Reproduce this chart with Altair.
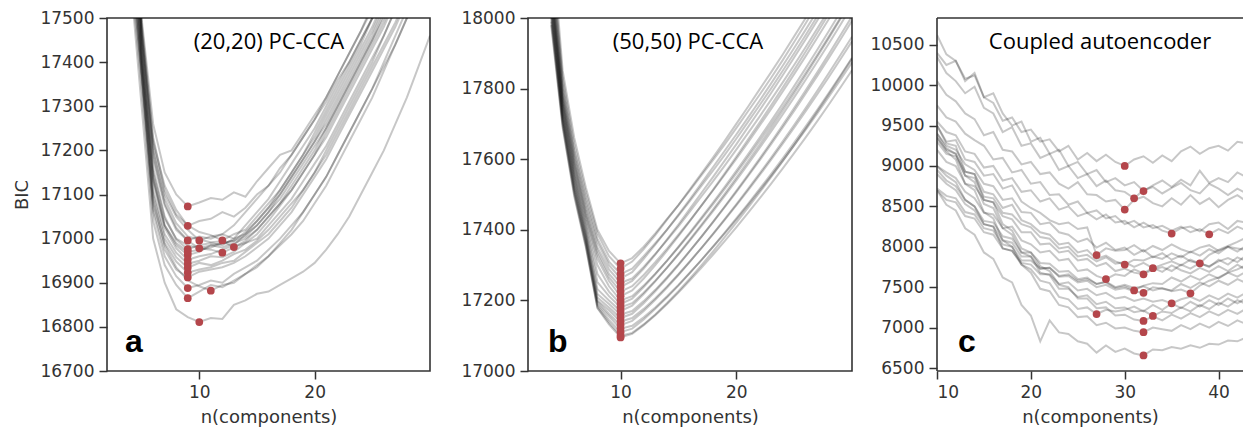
import altair as alt
import pandas as pd

# ---------------- Panel a: (20,20) PC-CCA, curves start at n = 4 ----------------
a_start = 4
a_curves = [
    [18050,17500,17260,17150,17100,17073,17082,17092,17088,17105,17095,17130,17160,17190,17200,17240,17280,17320,17370,17420,17470,17530],
    [17980,17480,17220,17120,17065,17029,17040,17045,17060,17050,17070,17100,17120,17160,17190,17230,17270,17310,17360,17400,17450,17500,17560],
    [17900,17460,17190,17080,17025,16996,17005,17000,17010,17030,17060,17090,17120,17150,17190,17230,17270,17320,17370,17420,17470,17520],
    [17850,17440,17160,17050,16998,16976,16985,16990,16985,17000,17010,17040,17070,17100,17140,17180,17220,17270,17320,17370,17420,17470,17530],
    [17800,17420,17140,17030,16985,16963,16970,16985,16980,16990,17000,17020,17050,17080,17110,17150,17190,17230,17280,17330,17380,17430,17480,17540],
    [17760,17410,17130,17025,16978,16952,16960,16965,16975,16985,17010,17030,17060,17090,17130,17170,17210,17250,17300,17350,17400,17450,17510],
    [17740,17400,17110,17010,16968,16943,16950,16960,16958,16970,16990,17000,17030,17060,17090,17130,17170,17210,17260,17310,17360,17410,17460,17520],
    [17700,17390,17100,17000,16958,16934,16945,16940,16950,16965,16975,16995,17020,17050,17080,17110,17150,17190,17240,17290,17340,17390,17440,17490,17550],
    [17680,17380,17080,16990,16948,16923,16930,16935,16945,16950,16970,16990,17010,17040,17070,17110,17150,17200,17250,17300,17350,17400,17460,17520],
    [17660,17360,17060,16960,16915,16888,16895,16905,16900,16920,16935,16950,16975,17000,17030,17060,17100,17140,17190,17240,17290,17340,17390,17440,17500,17560],
    [17620,17340,17040,16940,16895,16865,16880,16895,16890,16905,16920,16940,16960,16985,17010,17040,17080,17120,17170,17220,17270,17320,17380,17440,17500,17560],
    [17950,17470,17210,17100,17050,17020,16996,17005,17010,17000,17030,17060,17090,17130,17170,17210,17250,17300,17350,17400,17450,17500,17560],
    [17880,17450,17180,17075,17020,16995,16978,16985,16990,16995,17015,17040,17070,17110,17150,17190,17230,17280,17330,17380,17430,17480,17540],
    [17600,17300,17000,16900,16840,16822,16811,16820,16818,16850,16860,16875,16880,16895,16910,16925,16945,16975,17010,17050,17100,17150,17200,17260,17320,17390,17460],
    [17720,17380,17090,16985,16935,16905,16892,16882,16895,16900,16920,16935,16960,16990,17020,17060,17100,17140,17190,17240,17290,17340,17400,17460,17520],
    [18000,17490,17230,17110,17055,17030,17015,17008,16996,17010,17020,17050,17080,17110,17150,17190,17240,17290,17340,17390,17440,17500,17560],
    [17820,17430,17150,17045,17000,16985,16978,16975,16968,16980,16995,17020,17050,17080,17120,17160,17200,17250,17300,17350,17400,17450,17500,17560],
    [17920,17465,17200,17090,17035,17005,16998,16992,16994,16981,16990,17010,17040,17075,17110,17150,17190,17240,17290,17340,17390,17440,17490,17550],
    [17780,17415,17135,17030,16990,16970,16975,16980,16990,16995,17005,17030,17060,17100,17140,17180,17220,17260,17310,17360,17410,17460,17520],
    [17640,17370,17070,16975,16930,16912,16925,16930,16935,16945,16960,16980,17000,17030,17060,17100,17140,17180,17230,17280,17330,17380,17430,17480,17540],
]

# ---------------- Panel b: (50,50) PC-CCA, curves start at n = 4 ----------------
b_start = 4
b_curves = [
    [18250,17850,17660,17520,17400,17340,17305,17320,17352,17390,17430,17470,17512,17555,17598,17642,17688,17735,17782,17830,17880,17932,17985,18040],
    [18200,17830,17640,17505,17390,17325,17290,17310,17345,17385,17428,17470,17515,17560,17605,17652,17700,17748,17797,17846,17896,17948,18000,18052],
    [18180,17815,17625,17490,17375,17310,17275,17290,17325,17362,17400,17440,17482,17525,17568,17612,17658,17705,17752,17800,17850,17900,17952,18005],
    [18160,17800,17615,17478,17365,17300,17262,17280,17318,17358,17400,17443,17487,17532,17578,17624,17670,17717,17765,17814,17864,17915,17967,18020],
    [18140,17790,17605,17465,17350,17288,17250,17262,17295,17332,17370,17410,17452,17495,17538,17582,17627,17673,17720,17768,17817,17867,17918,17970,18023],
    [18120,17780,17595,17455,17340,17275,17238,17255,17290,17330,17372,17415,17460,17505,17550,17596,17642,17690,17738,17787,17837,17888,17940,17993,18047],
    [18110,17772,17588,17445,17330,17265,17225,17240,17272,17308,17346,17386,17427,17469,17512,17556,17601,17647,17694,17742,17791,17841,17892,17944,17997,18051],
    [18100,17765,17580,17438,17318,17255,17212,17228,17262,17300,17340,17382,17425,17469,17514,17560,17607,17655,17703,17752,17802,17853,17905,17958,18012],
    [18090,17758,17570,17428,17300,17240,17200,17212,17242,17276,17312,17350,17390,17431,17473,17516,17560,17605,17651,17698,17746,17795,17845,17896,17948,18001],
    [18080,17752,17562,17418,17275,17225,17190,17205,17238,17274,17312,17352,17393,17435,17478,17522,17567,17613,17660,17708,17757,17807,17858,17910,17963,18017],
    [18070,17745,17555,17408,17252,17212,17180,17192,17222,17256,17292,17330,17370,17411,17453,17496,17540,17585,17631,17678,17726,17775,17825,17876,17928,17981,18035],
    [18060,17738,17548,17398,17232,17200,17170,17185,17218,17254,17292,17332,17373,17415,17458,17502,17547,17593,17640,17688,17737,17787,17838,17890,17943,17997,18052],
    [18050,17730,17540,17390,17218,17190,17160,17170,17198,17230,17265,17302,17341,17381,17422,17464,17507,17551,17596,17642,17689,17737,17786,17836,17887,17939,17992],
    [18040,17725,17532,17384,17208,17180,17150,17162,17192,17226,17262,17300,17340,17381,17423,17466,17510,17555,17601,17648,17696,17745,17795,17846,17898,17951,18005],
    [18030,17718,17525,17378,17200,17172,17140,17150,17176,17206,17239,17274,17311,17349,17388,17428,17469,17511,17554,17598,17643,17689,17736,17784,17833,17883,17934],
    [18020,17712,17518,17372,17196,17162,17130,17142,17170,17202,17236,17272,17310,17349,17389,17430,17472,17515,17559,17604,17650,17697,17745,17794,17844,17895,17947],
    [18010,17706,17512,17366,17190,17155,17120,17128,17152,17180,17211,17244,17279,17315,17352,17390,17429,17469,17510,17552,17595,17639,17684,17730,17777,17825,17874],
    [18000,17700,17506,17360,17185,17145,17110,17120,17146,17176,17208,17242,17278,17315,17353,17392,17432,17473,17515,17558,17602,17647,17693,17740,17788,17837,17887],
    [17990,17694,17500,17355,17180,17138,17100,17108,17132,17160,17192,17226,17262,17300,17339,17379,17420,17462,17505,17549,17594,17640,17687,17735,17784,17834,17885],
    [17980,17688,17494,17350,17178,17132,17095,17105,17130,17158,17189,17222,17257,17293,17330,17368,17407,17447,17488,17530,17573,17617,17662,17708,17755,17803,17852],
]

# ---------------- Panel c: coupled autoencoder, curves start at n = 10 ----------------
c_start = 10
c_curves = [
    [10620,10380,10300,10080,10120,9850,9780,9560,9600,9420, 9450,9300,9330,9180,9250,9080,9160,9060,9140,9050, 9000,9080,9120,9040,9130,9060,9180,9240,9150,9220, 9250,9190,9300,9280,9250],
    [10400,10250,10300,10050,10150,9850,9900,9650,9500,9550, 9300,9350,9150,9200,9000,9050,8900,8950,8800,8850, 8760,8800,8690,8760,8820,8740,8830,8760,8940,8790, 8850,8800,8920,8860,8900],
    [10350,10150,10050,9900,9980,9720,9650,9420,9480,9250, 9280,9100,9150,8950,9000,8850,8900,8750,8820,8700, 8680,8600,8700,8740,8660,8730,8790,8700,8660,8780, 8720,8640,8720,8660,8700],
    [10050,9880,9800,9650,9580,9380,9420,9200,9180,9020, 9050,8900,8920,8780,8720,8800,8650,8640,8560,8580, 8460,8580,8620,8540,8500,8600,8520,8640,8530,8600, 8490,8580,8640,8560,8600],
    [9750,9600,9550,9400,9320,9250,9080,9100,8920,8950, 8780,8800,8640,8650,8520,8560,8420,8450,8350,8380, 8280,8320,8240,8270,8200,8164,8230,8250,8190,8280, 8300,8220,8320,8300,8260],
    [9550,9420,9380,9180,9150,8980,9000,8820,8850,8680, 8700,8560,8600,8460,8500,8380,8420,8340,8400,8300, 8320,8240,8300,8230,8260,8200,8250,8180,8220,8155, 8220,8170,8250,8200,8240],
    [9500,9300,9320,9080,9050,8880,8900,8720,8760,8560, 8480,8420,8330,8280,8300,8220,8240,7898,7980,7950, 7960,8020,7940,8010,7960,8030,7970,7930,7990,8020, 7950,8000,7980,7960,8010],
    [9400,9250,9200,9020,8950,8780,8750,8580,8600,8430, 8420,8280,8300,8180,8150,8060,8100,7990,8050,7960, 7990,7900,7960,7870,7920,7840,7890,7820,7795,7900, 7960,8010,8060,8120,8150],
    [9350,9200,9150,8930,8900,8680,8650,8480,8520,8330, 8280,8180,8150,8030,8050,7930,7960,7850,7890,7820, 7780,7840,7830,7880,7850,7920,7870,7940,7890,7970, 7920,8000,7940,8020,7980],
    [9300,9150,9120,8880,8850,8620,8600,8420,8400,8280, 8240,8120,8100,7980,8000,7880,7900,7820,7870,7790, 7810,7750,7800,7735,7780,7820,7770,7840,7790,7760, 7820,7860,7810,7900,7850],
    [9200,9050,9000,8780,8750,8580,8550,8380,8340,8180, 8180,8030,8040,7930,7950,7830,7850,7760,7800,7700, 7730,7680,7660,7720,7750,7700,7780,7730,7800,7750, 7840,7780,7870,7820,7880],
    [9000,8920,8850,8680,8600,8420,8400,8230,8250,8080, 8030,7930,7950,7830,7850,7700,7720,7640,7600,7660, 7640,7720,7670,7740,7690,7770,7710,7670,7740,7690, 7760,7700,7780,7710,7750],
    [8950,8820,8750,8580,8500,8320,8300,8130,8100,7930, 7930,7800,7790,7690,7700,7600,7620,7540,7560,7490, 7510,7460,7520,7550,7540,7620,7570,7640,7590,7660, 7610,7680,7630,7700,7660],
    [8900,8780,8700,8530,8450,8280,8250,8080,8050,7880, 7880,7730,7740,7630,7640,7560,7580,7500,7530,7470, 7490,7450,7430,7500,7480,7460,7540,7490,7560,7510, 7580,7530,7600,7550,7600],
    [8720,8630,8600,8430,8400,8230,8200,8030,8000,7830, 7830,7730,7740,7640,7660,7580,7600,7540,7570,7500, 7530,7490,7510,7460,7490,7450,7470,7425,7520,7580, 7620,7680,7720,7780,7820],
    [8700,8580,8550,8380,8350,8180,8150,7980,7950,7800, 7780,7660,7660,7540,7560,7460,7480,7400,7430,7360, 7380,7330,7360,7320,7340,7300,7350,7380,7330,7400, 7350,7420,7370,7440,7400],
    [9000,8880,8800,8580,8500,8280,8250,7980,7950,7780, 7720,7580,7550,7380,7350,7230,7250,7168,7220,7200, 7220,7260,7200,7280,7220,7300,7240,7320,7260,7340, 7280,7360,7300,7370,7330],
    [9400,9220,9150,8880,8800,8530,8480,8230,8150,7930, 7880,7680,7650,7480,7480,7380,7400,7290,7320,7240, 7250,7190,7210,7144,7200,7180,7250,7200,7280,7230, 7310,7260,7340,7290,7330],
    [9500,9280,9250,8930,8900,8580,8550,8280,8200,7980, 7930,7760,7700,7530,7500,7360,7360,7240,7250,7150, 7160,7100,7082,7140,7090,7160,7110,7180,7130,7200, 7150,7220,7170,7240,7200],
    [9350,9180,9080,8780,8700,8430,8350,8080,8000,7780, 7680,7480,7450,7280,7250,7130,7140,7030,7060,6990, 7000,6960,6943,7000,6980,6960,7030,6980,7050,7000, 7070,7020,7090,7040,7080],
    [8700,8520,8450,8230,8150,7930,7850,7620,7560,7280, 7150,6830,7090,6940,6920,6830,6800,6690,6780,6700, 6740,6680,6656,6730,6720,6760,6740,6780,6750,6800, 6790,6840,6830,6880,6860],
]

titles = ["(20,20) PC-CCA", "(50,50) PC-CCA", "Coupled autoencoder"]
letters = ["a", "b", "c"]
a_yticks = [16700, 16800, 16900, 17000, 17100, 17200, 17300, 17400, 17500]
b_yticks = [17000, 17200, 17400, 17600, 17800, 18000]
c_yticks = [6500, 7000, 7500, 8000, 8500, 9000, 9500, 10000, 10500]
ab_xticks = [10, 20]
c_xticks = [10, 20, 30, 40]

LINE = "black"
DOT = "#b4464b"
FRAME = "#333"
H = 353


def long_df(curves, start):
    rows = []
    for i, c in enumerate(curves):
        for j, v in enumerate(c):
            rows.append((i, start + j, v))
    return pd.DataFrame(rows, columns=["run", "n", "bic"])


def panel(curves, start, xdom, ydom, xticks, yticks, width, ytitle, title, letter,
          title_x, letter_x, open_right=False):
    df = long_df(curves, start)
    pts = df.loc[df.groupby("run")["bic"].idxmin()]
    if ytitle:
        yaxis = alt.Axis(values=yticks, format="d", title=ytitle)
    else:
        yaxis = alt.Axis(values=yticks, format="d", title=None)
    x = alt.X("n:Q", scale=alt.Scale(domain=xdom, nice=False, zero=False),
              axis=alt.Axis(values=xticks, format="d", title="n(components)"))
    y = alt.Y("bic:Q", scale=alt.Scale(domain=ydom, nice=False, zero=False), axis=yaxis)
    lines = alt.Chart(df).mark_line(clip=True, color=LINE, opacity=0.22, strokeWidth=2).encode(
        x=x, y=y, detail="run:N")
    dots = alt.Chart(pts).mark_circle(size=60, color=DOT, opacity=1, clip=True).encode(
        x="n:Q", y="bic:Q")
    ttl = alt.Chart(pd.DataFrame({"t": [title]})).mark_text(
        font="Open Sans", fontSize=22, align="center", baseline="alphabetic", color="black"
    ).encode(x=alt.value(title_x), y=alt.value(31), text="t:N")
    let = alt.Chart(pd.DataFrame({"t": [letter]})).mark_text(
        font="Liberation Sans", fontWeight="bold", fontSize=32, align="left",
        baseline="alphabetic", color="black"
    ).encode(x=alt.value(letter_x), y=alt.value(334), text="t:N")
    layers = [lines, dots, ttl, let]
    if open_right:
        fr = alt.Chart(pd.DataFrame({"v": [0]})).mark_rule(color=FRAME, strokeWidth=1.6)
        layers += [
            fr.encode(x=alt.value(0), y=alt.value(0), y2=alt.value(H)),
            fr.encode(x=alt.value(0), x2=alt.value(width), y=alt.value(0)),
            fr.encode(x=alt.value(0), x2=alt.value(width), y=alt.value(H)),
        ]
        return alt.layer(*layers).properties(width=width, height=H,
                                             view=alt.ViewBackground(strokeOpacity=0))
    return alt.layer(*layers).properties(width=width, height=H)


def spacer(w):
    return alt.Chart(pd.DataFrame({"v": [0]})).mark_point(opacity=0).encode(
        x=alt.X("v:Q", axis=None), y=alt.Y("v:Q", axis=None)
    ).properties(width=w, height=H, view=alt.ViewBackground(strokeOpacity=0))


pa = panel(a_curves, a_start, [2, 30], [16700, 17500], ab_xticks, a_yticks, 323, "BIC",
           titles[0], letters[0], 162, 18)
pb = panel(b_curves, b_start, [2, 30], [17000, 18000], ab_xticks, b_yticks, 324, None,
           titles[1], letters[1], 160, 20)
pc = panel(c_curves, c_start, [10, 42.6], [6463, 10831], c_xticks, c_yticks, 306, None,
           titles[2], letters[2], 163, 21, open_right=True)

chart = alt.hconcat(pa, spacer(14), pb, spacer(1), pc, spacing=42, bounds="flush").properties(
    padding={"left": 5, "top": 0, "right": 0, "bottom": 0}
).configure_axis(
    labelFont="DejaVu Sans", labelFontSize=17, labelColor="#333",
    titleFont="DejaVu Sans", titleFontSize=18, titleFontWeight="normal", titleColor="#333",
    tickColor="#333", tickSize=8, tickWidth=1.5, labelPadding=5, titlePadding=8,
    domain=False, grid=False
).configure_view(stroke=FRAME, strokeWidth=1.6)

chart.save("out.html", embed_options={"renderer": "svg", "actions": False})
